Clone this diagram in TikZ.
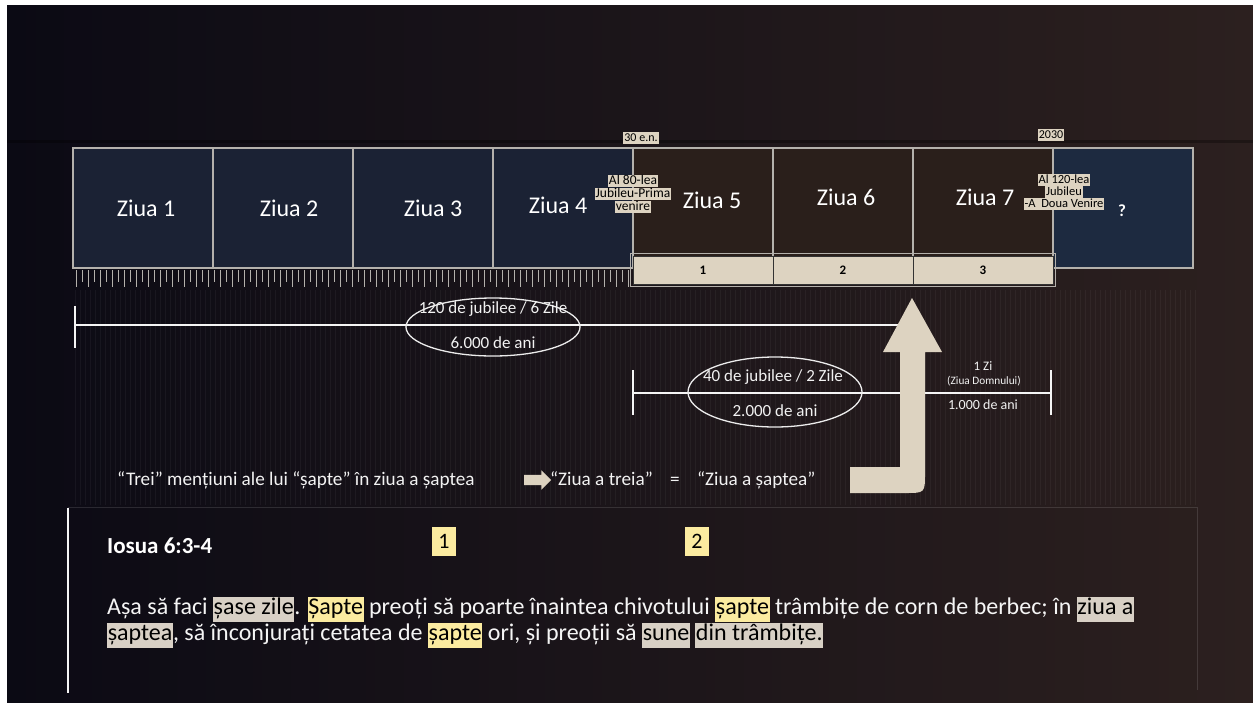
\documentclass[tikz,border=0pt]{standalone}
\usepackage{fontspec}
\setmainfont{Carlito}
\usepackage{tikz}
\usetikzlibrary{positioning,calc,shapes.geometric,shapes.arrows}

\definecolor{bgl}{HTML}{0B0A14}
\definecolor{bgr}{HTML}{2C201F}
\definecolor{navy}{HTML}{1B2234}
\definecolor{navyq}{HTML}{1D2A40}
\definecolor{brun}{HTML}{2A1F1B}
\definecolor{rama}{HTML}{B4B1AC}
\definecolor{bej}{HTML}{DDD3C1}
\definecolor{galben}{HTML}{FBEBA0}
\definecolor{gri}{HTML}{D8D0C5}
\newcommand{\evid}[2]{{\setlength{\fboxsep}{0.6pt}\colorbox{#1}{\color{black}\strut #2}}}

\begin{document}
\begin{tikzpicture}[x=1pt,y=-1pt,
  zi/.style={draw=rama, line width=1.5pt, minimum width=140pt, minimum height=120pt, inner sep=0pt},
  zitext/.style={text=white, font=\fontsize{24}{28}\selectfont},
  bara/.style={draw=black!80, fill=bej, line width=1pt, minimum width=140pt, minimum height=28pt, font=\fontsize{13}{15}\selectfont\bfseries},
  eticheta/.style={fill=bej, text=black, inner xsep=1pt, inner ysep=0pt, text height=9pt, text depth=2.5pt, font=\fontsize{12.5}{12}\selectfont},
  jub/.style={eticheta, font=\fontsize{13.5}{13}\selectfont, text height=9.5pt, text depth=3pt},
  linie/.style={white!92!gray, line width=2.5pt},
  elipsa/.style={ellipse, draw=white!85!gray, line width=1.3pt, inner sep=0pt},
  txt/.style={text=white!90!gray, font=\fontsize{17}{19}\selectfont},
  nr/.style={fill=galben, text=black, minimum width=24pt, minimum height=29pt, inner sep=0pt, font=\fontsize{22}{24}\selectfont}]
\useasboundingbox (0,0) rectangle (1253,702);
\fill[white] (0,0) rectangle (1253,702);
\shade[left color=bgl, right color=bgr] (7,5) rectangle (1253,702);
\draw[black, opacity=0.3, line width=3pt] (7,141) -- (1253,141);
\foreach \x in {75,80,...,1195}
  \draw[white, opacity=0.045, line width=1pt] (\x,290) -- (\x,505);

\foreach \i/\c/\dx/\dy in {1/navy/3/0,2/navy/6/0,3/navy/10/0,4/navy/-5/-3,5/brun/9/-8,6/brun/3/-11,7/brun/2/-11} {
  \node[zi, fill=\c] (z\i) at ({3+140*\i},208) {};
  \node[zitext] (t\i) at ($(z\i)+(\dx,\dy)$) {Ziua \i};
}
\node[zi, fill=navyq] (z8) at (1123,208) {};
\node[text=white, font=\fontsize{17}{18}\selectfont\bfseries] (tq) at (1122,211) {?};

\foreach \x in {76,88,...,628} {
  \draw[rama, line width=0.8pt] (\x,270) -- (\x,287);
  \draw[rama, line width=0.8pt] (\x+6,270) -- (\x+6,282);
}
\foreach \i in {1,2,3}
  \node[bara] (b\i) at ({563+140*\i},270) {\i};
\draw[rama, line width=1pt] ($(b1.north west)+(-2,-2)$) rectangle ($(b3.south east)+(2,2)$);

\node[eticheta, font=\fontsize{12}{12}\selectfont] (en30) at (641,138) {30 e.n.};
\node[eticheta, font=\fontsize{12}{12}\selectfont] (an2030) at (1051,135) {2030};
\node[jub] (j80a) at (633,181) {Al 80-lea};
\node[jub, below=0pt of j80a] (j80b) {Jubileu-Prima};
\node[jub, below=0pt of j80b] (j80c) {venire};
\node[eticheta] (j120a) at (1064,180) {Al 120-lea};
\node[eticheta, below=0pt of j120a] (j120b) {Jubileu};
\node[eticheta, below=0pt of j120b] (j120c) {-A\ \ Doua Venire};

\coordinate (a1) at (75,325);
\coordinate (a2) at (912,325);
\draw[linie] (a1) -- (a2);
\draw[linie] ($(a1)+(0,-19)$) -- ($(a1)+(0,23)$);
\node[elipsa, minimum width=174pt, minimum height=58pt] (e1) at (493,327) {};
\node[txt] (e1t) at (493,309) {120 de jubilee / 6 Zile};
\node[txt] (e1b) at (493,343) {6.000 de ani};

\coordinate (c1) at (633,393);
\coordinate (c2) at (1051,393);
\draw[linie] (c1) -- (c2);
\draw[linie] ($(c1)+(0,-23)$) -- ($(c1)+(0,22)$);
\draw[linie] ($(c2)+(0,-23)$) -- ($(c2)+(0,22)$);
\node[elipsa, minimum width=174pt, minimum height=70pt] (e2) at (775,392) {};
\node[txt] (e2t) at (773,377) {40 de jubilee / 2 Zile};
\node[txt] (e2b) at (775,411) {2.000 de ani};
\node[txt, font=\fontsize{13}{14}\selectfont] (zi1) at (983,366) {1 Zi};
\node[txt, font=\fontsize{11.3}{12}\selectfont] (zdom) at (984,381) {(Ziua Domnului)};
\node[txt, font=\fontsize{14}{15}\selectfont] (ani1) at (983,405) {1.000 de ani};

\fill[bej] (850,467) -- (900,467) -- (900,352) -- (883,352) -- (912,298) -- (942,352) -- (925,352)
  -- (925,473) .. controls (925,493) .. (905,493) -- (850,493) -- cycle;

\node[txt, font=\fontsize{19.2}{21}\selectfont, anchor=west, inner sep=0pt] (trei) at (117,480) {“Trei” mențiuni ale lui “șapte” în ziua a șaptea};
\node[single arrow, fill=bej, minimum height=27pt, minimum width=19pt, single arrow head extend=4.5pt, inner sep=5pt] (sag) at (535,480) {};
\node[txt, font=\fontsize{19.2}{21}\selectfont, anchor=west, inner sep=0pt] (egal) at (550,480) {“Ziua a treia”\ \ \ \ =\ \ \ \ “Ziua a șaptea”};

\draw[white, opacity=0.12, line width=1pt] (68,507) -- (1197,507) -- (1197,690);
\draw[white!92!gray, line width=2.5pt] (68,508) -- (68,693);
\node[text=white, font=\fontsize{23}{25}\selectfont\bfseries, anchor=west, inner sep=0pt] (iosua) at (107,546) {Iosua 6:3-4};
\node[nr] (n1) at (444,541) {1};
\node[nr] (n2) at (697,541) {2};
\node[anchor=north west, align=left, inner sep=0pt, text=white!92!gray, font=\fontsize{24}{23.5}\selectfont] (verset) at (107,597)
  {Așa să faci \evid{gri}{șase zile}. \evid{galben}{Șapte} preoți să poarte înaintea chivotului \evid{galben}{șapte} trâmbițe de corn de berbec; în \evid{gri}{ziua a}\\
   \evid{gri}{șaptea}, să înconjurați cetatea de \evid{galben}{șapte} ori, și preoții să \evid{gri}{sune} \evid{gri}{din trâmbițe.}};
\end{tikzpicture}
\end{document}
